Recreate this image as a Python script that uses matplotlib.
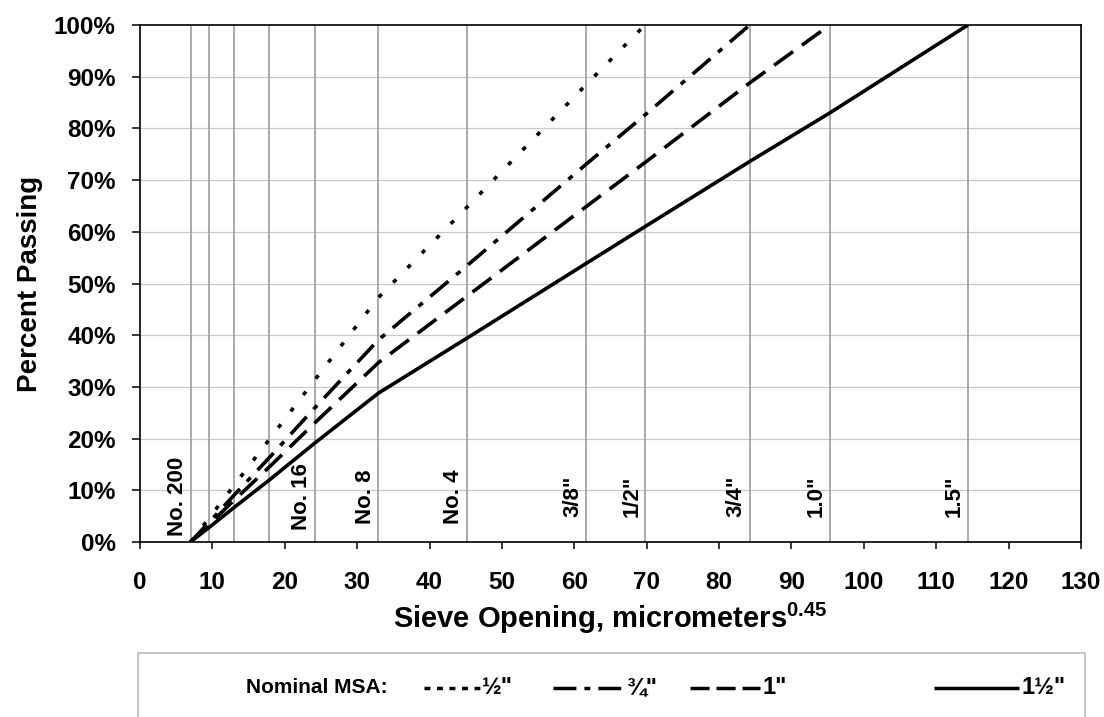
import matplotlib
matplotlib.use("Agg")
import matplotlib.pyplot as plt
import matplotlib.transforms as mtransforms
from matplotlib.patches import Rectangle
from matplotlib.lines import Line2D
import numpy as np

plt.rcParams['font.family'] = ['Liberation Sans', 'DejaVu Sans']
plt.rcParams['font.weight'] = 'bold'
plt.rcParams['mathtext.fontset'] = 'custom'
plt.rcParams['mathtext.rm'] = 'Liberation Sans:bold'
plt.rcParams['mathtext.bf'] = 'Liberation Sans:bold'

# sieves, opening in micrometers (x axis is opening^0.45)
sieve_names = ["No. 200", "No. 100", "No. 50", "No. 30", "No. 16", "No. 8",
               "No. 4", '3/8"', '1/2"', '3/4"', '1.0"', '1.5"']
sieve_um = [75, 150, 300, 600, 1180, 2360, 4750, 9500, 12500, 19000, 25000, 37500]
labeled = ["No. 200", "No. 16", "No. 8", "No. 4", '3/8"', '1/2"', '3/4"', '1.0"', '1.5"']

# percent passing at each sieve (up to the MSA)
pass_half = [0, 4.6, 11.0, 19.7, 31.3, 47.3, 64.7, 88.5, 100]
pass_34 = [0, 3.8, 9.1, 16.2, 25.9, 39.1, 53.4, 73.1, 82.6, 100]
pass_1 = [0, 3.4, 8.1, 14.4, 23.0, 34.7, 47.5, 64.9, 73.4, 88.8, 100]
pass_112 = [0, 2.8, 6.7, 11.9, 19.1, 28.8, 39.4, 53.9, 61.0, 73.6, 83.0, 100]

series_labels = ['\u00bd"', '\u00be"', '1"', '1\u00bd"']
series_values = [pass_half, pass_34, pass_1, pass_112]
series_styles = [(0, (1.2, 4.5)), (0, (6.5, 2.8, 1.5, 2.8)), (0, (6.5, 3)), '-']
legend_styles = [(0, (1.7, 1.9)), (0, (6.6, 2.3, 1.7, 2.3)), (0, (5.5, 2)), '-']

x_sieve = np.array(sieve_um) ** 0.45

fig = plt.figure(figsize=(11.04, 7.17), dpi=100)
ax = fig.add_axes([0.1268, 0.2441, 0.8524, 0.7210])

# grid
for yv in range(10, 100, 10):
    ax.axhline(yv, color='#c8c8c8', lw=0.9, zorder=1)
for xv in x_sieve:
    ax.axvline(xv, color='#9c9c9c', lw=1.2, zorder=1)

for vals, style in zip(series_values, series_styles):
    ax.plot(x_sieve[:len(vals)], vals, color='black', lw=2.6,
            linestyle=style, dash_capstyle='butt', solid_capstyle='butt', zorder=3)

# sieve labels, rotated, just left of the line
shift = mtransforms.ScaledTranslation(-2 / 72, 0, fig.dpi_scale_trans)
for name, xv in zip(sieve_names, x_sieve):
    if name in labeled:
        ax.text(xv, 8.8, name, rotation=90, ha='right', va='center',
                fontsize=16, fontweight='bold',
                transform=ax.transData + shift, zorder=4)

ax.set_xlim(0, 130)
ax.set_ylim(0, 100)
ax.set_xticks(range(0, 131, 10))
ax.set_yticks(range(0, 101, 10))
ax.set_yticklabels([f"{v}%" for v in range(0, 101, 10)])
ax.tick_params(axis='x', direction='out', length=5, width=1.1, labelsize=17.5, pad=16)
ax.tick_params(axis='y', direction='out', length=5.5, width=1.1, labelsize=17.5, pad=12)
for lab in ax.get_xticklabels() + ax.get_yticklabels():
    lab.set_fontweight('bold')
for sp in ax.spines.values():
    sp.set_linewidth(1.2)

fig.text(0.553, 0.138, r"Sieve Opening, micrometers$^{0.45}$", ha='center', va='center',
         fontsize=21, fontweight='bold')
fig.text(0.027, 0.6046, "Percent Passing", rotation=90, ha='center', va='center',
         fontsize=20, fontweight='bold')

# legend box
fig.patches.append(Rectangle((0.125, -0.02), 0.8578, 0.1093, transform=fig.transFigure,
                             fill=False, edgecolor='#bdbdbd', lw=1.2))
ly = 0.0405
fig.text(246 / 1104, ly, "Nominal MSA:", ha='left', va='center', fontsize=15, fontweight='bold')
handle_x = [(424, 480), (553, 625), (690, 760), (934, 1019)]
for (x0, x1), lab, style in zip(handle_x, series_labels, legend_styles):
    fig.add_artist(Line2D([x0 / 1104, x1 / 1104], [ly, ly], transform=fig.transFigure,
                          color='black', lw=2.5, linestyle=style,
                          dash_capstyle='butt', solid_capstyle='butt'))
    fig.text((x1 + 2) / 1104, ly, lab, ha='left', va='center', fontsize=17, fontweight='bold')

fig.savefig("out.png", dpi=100)
